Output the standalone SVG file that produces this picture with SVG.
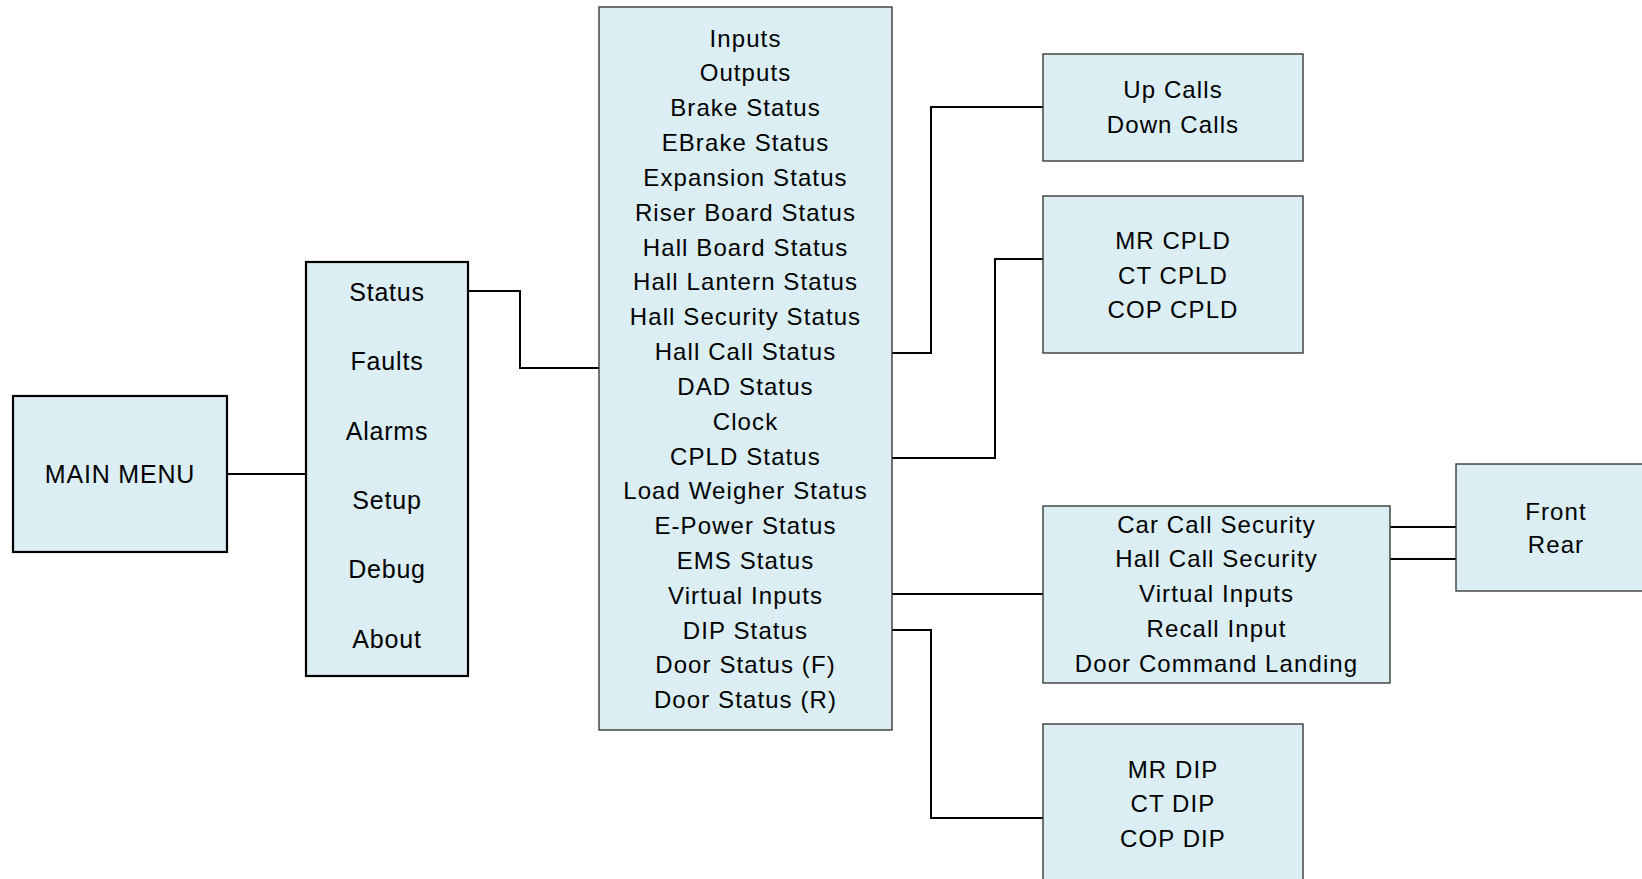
<svg xmlns="http://www.w3.org/2000/svg" width="1642" height="879" viewBox="0 0 1642 879">
  <style>
    .box { fill: #DAEEF3; stroke: #3a3a3a; stroke-width: 1.4; }
    .box-main { fill: #DAEEF3; stroke: #000; stroke-width: 2.2; }
    .lbl { font-family: "Liberation Sans", Arial, sans-serif; font-size: 24px; letter-spacing: 1.1px; fill: #000; text-anchor: middle; }
    .lbl-big { font-family: "Liberation Sans", Arial, sans-serif; font-size: 25px; letter-spacing: 0.8px; fill: #000; text-anchor: middle; }
    .wire { fill: none; stroke: #000; stroke-width: 2; stroke-linejoin: miter; }
  </style>

  <rect width="1642" height="879" fill="#fff"/>

  <!-- connectors -->
  <g id="connectors">
    <path class="wire" d="M227 474 H306"/>
    <path class="wire" d="M468 291 H520 V368 H599"/>
    <path class="wire" d="M892 353 H931 V107 H1043"/>
    <path class="wire" d="M892 458 H995 V259 H1043"/>
    <path class="wire" d="M892 594 H1043"/>
    <path class="wire" d="M892 630 H931 V818 H1043"/>
    <path class="wire" d="M1390 527 H1456"/>
    <path class="wire" d="M1390 559 H1456"/>
  </g>

  <!-- root -->
  <g id="main-menu">
    <rect class="box-main" x="13" y="396" width="214" height="156"/>
    <text class="lbl-big" x="120" y="483">MAIN MENU</text>
  </g>

  <!-- top-level menu -->
  <g id="menu">
    <rect class="box-main" x="306" y="262" width="162" height="414"/>
    <text class="lbl-big" x="387" y="300.7">Status</text>
    <text class="lbl-big" x="387" y="370.1">Faults</text>
    <text class="lbl-big" x="387" y="439.5">Alarms</text>
    <text class="lbl-big" x="387" y="508.9">Setup</text>
    <text class="lbl-big" x="387" y="578.3">Debug</text>
    <text class="lbl-big" x="387" y="647.7">About</text>
  </g>

  <!-- status submenu -->
  <g id="status-menu">
    <rect class="box" x="599" y="7" width="293" height="723"/>
    <text class="lbl" x="745.5" y="46.5">Inputs</text>
    <text class="lbl" x="745.5" y="81.3">Outputs</text>
    <text class="lbl" x="745.5" y="116.2">Brake Status</text>
    <text class="lbl" x="745.5" y="151.0">EBrake Status</text>
    <text class="lbl" x="745.5" y="185.8">Expansion Status</text>
    <text class="lbl" x="745.5" y="220.7">Riser Board Status</text>
    <text class="lbl" x="745.5" y="255.5">Hall Board Status</text>
    <text class="lbl" x="745.5" y="290.3">Hall Lantern Status</text>
    <text class="lbl" x="745.5" y="325.1">Hall Security Status</text>
    <text class="lbl" x="745.5" y="360.0">Hall Call Status</text>
    <text class="lbl" x="745.5" y="394.8">DAD Status</text>
    <text class="lbl" x="745.5" y="429.6">Clock</text>
    <text class="lbl" x="745.5" y="464.5">CPLD Status</text>
    <text class="lbl" x="745.5" y="499.3">Load Weigher Status</text>
    <text class="lbl" x="745.5" y="534.1">E-Power Status</text>
    <text class="lbl" x="745.5" y="569.0">EMS Status</text>
    <text class="lbl" x="745.5" y="603.8">Virtual Inputs</text>
    <text class="lbl" x="745.5" y="638.6">DIP Status</text>
    <text class="lbl" x="745.5" y="673.4">Door Status (F)</text>
    <text class="lbl" x="745.5" y="708.3">Door Status (R)</text>
  </g>

  <g id="hall-calls">
    <rect class="box" x="1043" y="54" width="260" height="107"/>
    <text class="lbl" x="1173" y="98.3">Up Calls</text>
    <text class="lbl" x="1173" y="133.3">Down Calls</text>
  </g>

  <g id="cpld">
    <rect class="box" x="1043" y="196" width="260" height="157"/>
    <text class="lbl" x="1173" y="249">MR CPLD</text>
    <text class="lbl" x="1173" y="283.5">CT CPLD</text>
    <text class="lbl" x="1173" y="318.2">COP CPLD</text>
  </g>

  <g id="virtual-inputs">
    <rect class="box" x="1043" y="506" width="347" height="177"/>
    <text class="lbl" x="1216.5" y="532.5">Car Call Security</text>
    <text class="lbl" x="1216.5" y="567.3">Hall Call Security</text>
    <text class="lbl" x="1216.5" y="602.1">Virtual Inputs</text>
    <text class="lbl" x="1216.5" y="636.9">Recall Input</text>
    <text class="lbl" x="1216.5" y="671.7">Door Command Landing</text>
  </g>

  <g id="front-rear">
    <rect class="box" x="1456" y="464" width="200" height="127"/>
    <text class="lbl" x="1556" y="519.5">Front</text>
    <text class="lbl" x="1556" y="553">Rear</text>
  </g>

  <g id="dip">
    <rect class="box" x="1043" y="724" width="260" height="170"/>
    <text class="lbl" x="1173" y="777.5">MR DIP</text>
    <text class="lbl" x="1173" y="812.3">CT DIP</text>
    <text class="lbl" x="1173" y="847.1">COP DIP</text>
  </g>
</svg>
